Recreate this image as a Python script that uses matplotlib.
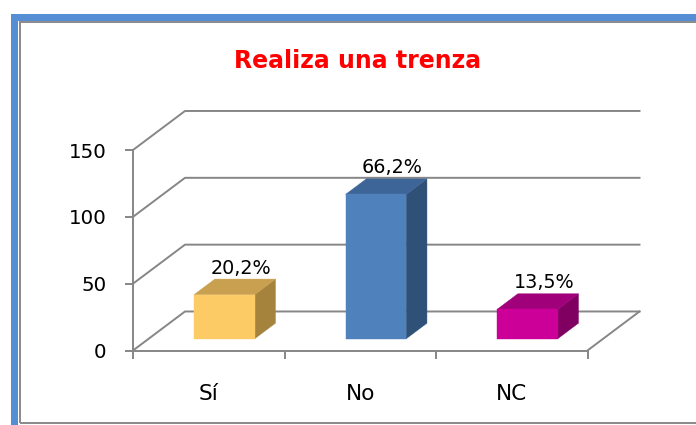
import matplotlib
matplotlib.use('Agg')
import matplotlib.pyplot as plt
from matplotlib.patches import Polygon, Rectangle

# data
categories = ['Sí', 'No', 'NC']
values = [33, 108, 22]
pct_labels = ['20,2%', '66,2%', '13,5%']
yticks = [0, 50, 100, 150]

front_colors = ['#fdcb65', '#4f81bd', '#cc0099']
top_colors = ['#c9a04f', '#3e6597', '#a0007a']
side_colors = ['#a6833d', '#2f5077', '#7f0060']

GRID = '#868686'
LW = 1.4
W, H = 696, 425
DX, DY = 52 / 151.5, 39 / 1.336   # oblique depth shift in data units
BAR_W = 0.40
F0, F1 = 0.30, 0.70               # bar depth range (fraction of floor depth)


def proj(x, y, f):
    return (x + f * DX, y + f * DY)


fig = plt.figure(figsize=(W / 100, H / 100), dpi=100)

# frame: blue outer border and gray inner line (cut by image edge)
fig.add_artist(Rectangle((13.5 / W, -0.5), 2, 1.5 - 16.5 / H, transform=fig.transFigure,
                         fill=False, edgecolor='#558ed5', linewidth=7 * 0.72))
fig.add_artist(Rectangle((20 / W, 2 / H), 2, 1 - 24 / H, transform=fig.transFigure,
                         fill=False, edgecolor='#8c8c8c', linewidth=2 * 0.72))

ax = fig.add_axes([133 / W, 74.5 / H, 454.5 / W, 200.5 / H])
ax.set_xlim(0, 3)
ax.set_ylim(0, 150)
ax.patch.set_visible(False)
for s in ['top', 'right']:
    ax.spines[s].set_visible(False)
for s in ['left', 'bottom']:
    ax.spines[s].set_color(GRID)
    ax.spines[s].set_linewidth(LW)

ax.set_yticks(yticks)
ax.tick_params(axis='y', direction='out', length=6, width=LW, color=GRID,
               pad=13, labelsize=14.3, labelcolor='black')
ax.set_xticks([0, 1, 2, 3])
ax.set_xticklabels([])
ax.tick_params(axis='x', which='major', direction='out', length=6, width=LW, color=GRID)
ax.set_xticks([i + 0.5 for i in range(len(categories))], minor=True)
ax.set_xticklabels(categories, minor=True)
ax.tick_params(axis='x', which='minor', length=0, pad=24, labelsize=15.6)

# walls: side diagonals and back gridlines
for yv in yticks:
    p0 = proj(0, yv, 0)
    p1 = proj(0, yv, 1)
    p2 = proj(3, yv, 1)
    ax.plot([p0[0], p1[0], p2[0]], [p0[1], p1[1], p2[1]], color=GRID, lw=LW,
            clip_on=False, zorder=1)
# right edge of floor
q0, q1 = proj(3, 0, 0), proj(3, 0, 1)
ax.plot([q0[0], q1[0]], [q0[1], q1[1]], color=GRID, lw=LW, clip_on=False, zorder=1)

# bars
for i, v in enumerate(values):
    x0 = i + 0.5 - BAR_W / 2
    x1 = i + 0.5 + BAR_W / 2
    front = [proj(x0, 0, F0), proj(x1, 0, F0), proj(x1, v, F0), proj(x0, v, F0)]
    top = [proj(x0, v, F0), proj(x1, v, F0), proj(x1, v, F1), proj(x0, v, F1)]
    side = [proj(x1, 0, F0), proj(x1, v, F0), proj(x1, v, F1), proj(x1, 0, F1)]
    for pts, c in [(side, side_colors[i]), (top, top_colors[i]), (front, front_colors[i])]:
        ax.add_patch(Polygon(pts, closed=True, facecolor=c, edgecolor=c, lw=0.3,
                             clip_on=False, zorder=3))
    lx = proj(i + 0.5, v, 0.62)[0]
    ax.annotate(pct_labels[i], (lx, v + F1 * DY), xytext=(0, 4), textcoords='offset points',
                ha='center', va='baseline', fontsize=13.8, annotation_clip=False, zorder=4)

fig.text(358 / W, 1 - 68 / H, 'Realiza una trenza', ha='center', va='baseline',
         fontsize=17, fontweight='bold', color='#ff0000')

fig.savefig('out.png', dpi=100)
